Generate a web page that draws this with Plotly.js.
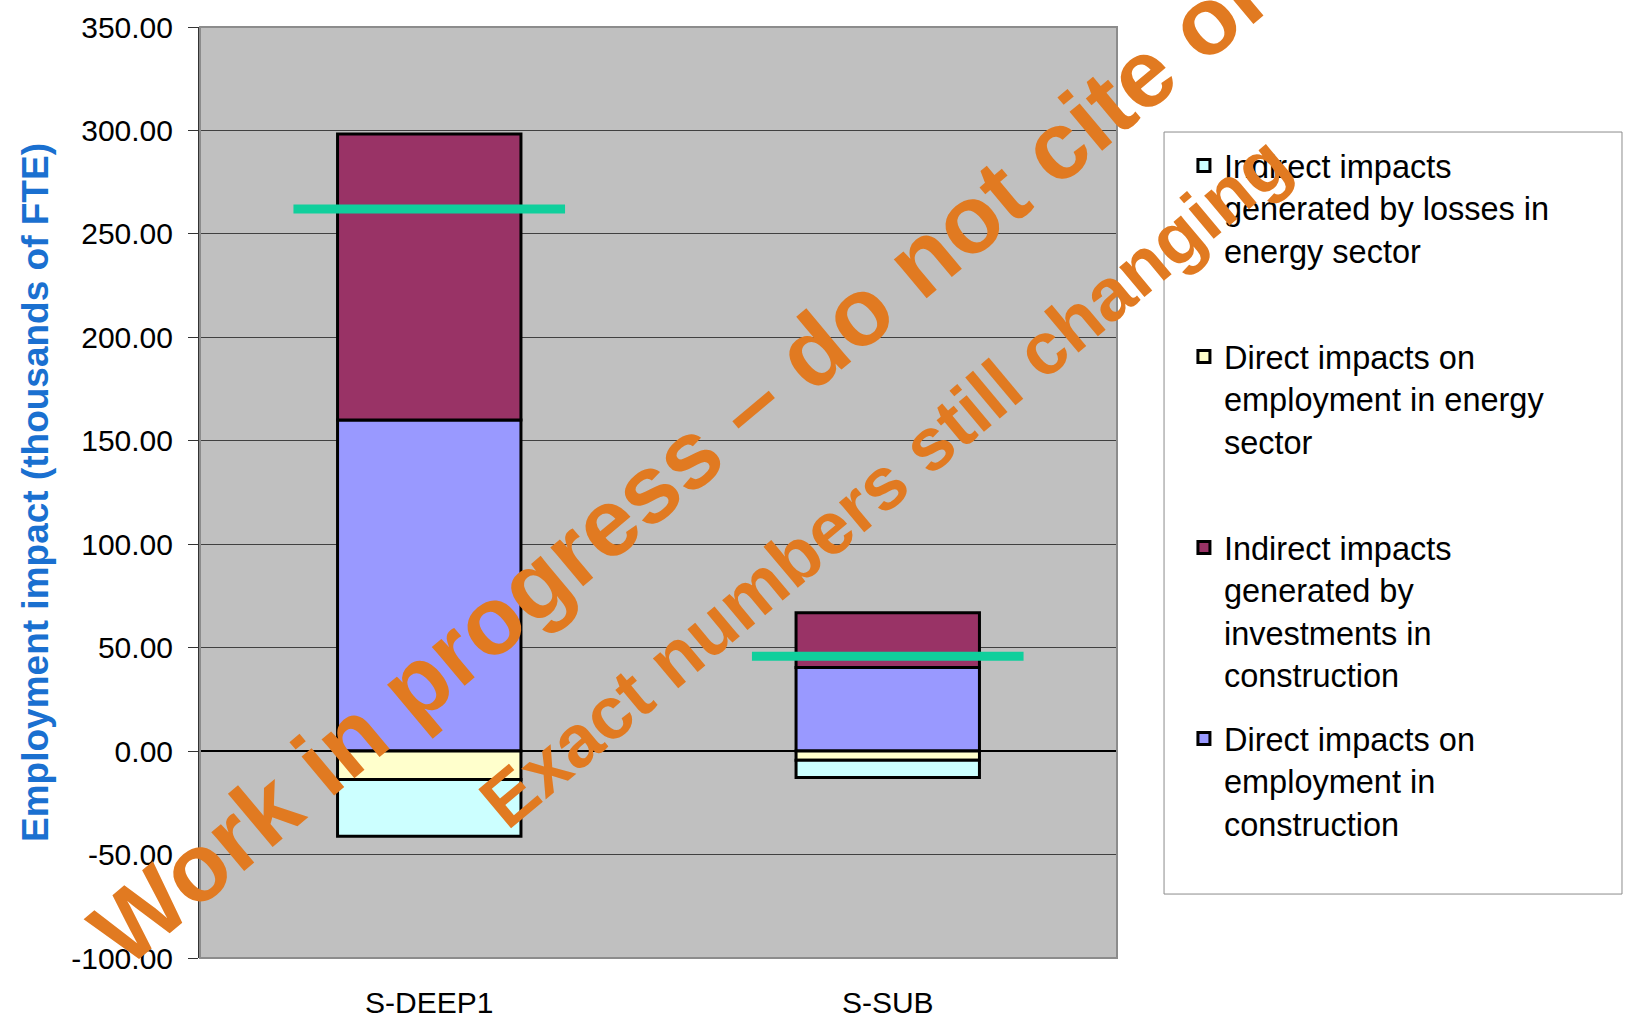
<!DOCTYPE html>
<html>
<head>
<meta charset="utf-8">
<script src="https://cdn.plot.ly/plotly-3.0.1.min.js"></script>
<style>
  html, body { margin: 0; padding: 0; background: #ffffff; overflow: hidden; }
  #chart { width: 1627px; height: 1029px; }
</style>
</head>
<body>
<div id="chart"></div>
<script>
// ---- Data ----
const categories = ['S-DEEP1', 'S-SUB'];
const directConstruction = [160.0, 40.4];     // Direct impacts on employment in construction
const indirectConstruction = [138.3, 26.5];   // Indirect impacts generated by investments in construction
const directEnergy = [-13.7, -4.4];           // Direct impacts on employment in energy sector
const indirectEnergyLosses = [-27.5, -8.4];   // Indirect impacts generated by losses in energy sector
const netImpact = [262.0, 45.8];              // green marker line

const seriesNames = [
  'Direct impacts on<br>employment in<br>construction<br>\u00a0',
  'Indirect impacts<br>generated by<br>investments in<br>construction',
  'Direct impacts on<br>employment in energy<br>sector<br>\u00a0',
  'Indirect impacts<br>generated by losses in<br>energy sector<br>\u00a0'
];
const legendRanks = [4, 3, 2, 1];

const yTickVals = [-100, -50, 0, 50, 100, 150, 200, 250, 300, 350];
const yTickText = ['-100.00', '-50.00', '0.00', '50.00', '100.00', '150.00', '200.00', '250.00', '300.00', '350.00'];

const yTitle = 'Employment impact (thousands of FTE)';
const watermarkMain = 'Work in progress \u2013 do not cite or';
const watermarkSub = 'Exact numbers still changing';

// ---- Styles ----
const FONT = 'Liberation Sans, Arial, sans-serif';
const colors = ['#9999FF', '#993366', '#FFFFCC', '#CCFFFF'];
const seriesValues = [directConstruction, indirectConstruction, directEnergy, indirectEnergyLosses];

const traces = seriesValues.map((vals, i) => ({
  type: 'bar',
  x: categories,
  y: vals,
  name: seriesNames[i],
  legendgroup: 'g' + i,
  legendrank: legendRanks[i],
  marker: { color: colors[i], line: { color: '#000000', width: 3 } },
  hoverinfo: 'x+y'
}));

traces.push({
  type: 'scatter',
  mode: 'markers',
  x: categories,
  y: netImpact,
  showlegend: false,
  marker: {
    symbol: 'line-ew',
    size: 194,
    color: '#10CF9C',
    line: { color: '#10CF9C', width: 9 }
  },
  hoverinfo: 'x+y'
});

const layout = {
  width: 1627,
  height: 1029,
  autosize: false,
  margin: { l: 200, r: 510, t: 27, b: 71, pad: 0 },
  paper_bgcolor: '#FFFFFF',
  plot_bgcolor: '#C0C0C0',
  barmode: 'relative',
  bargap: 0.6,
  font: { family: FONT, color: '#000000', size: 30 },
  xaxis: {
    type: 'category',
    showgrid: false,
    zeroline: false,
    showline: false,
    ticks: '',
    ticklabelstandoff: 24,
    tickfont: { family: FONT, size: 30, color: '#000000' }
  },
  yaxis: {
    range: [-100, 350],
    tickvals: yTickVals,
    ticktext: yTickText,
    ticks: 'outside',
    ticklen: 10,
    tickwidth: 1,
    tickcolor: '#333333',
    ticklabelstandoff: 9,
    tickfont: { family: FONT, size: 30, color: '#000000' },
    showgrid: true,
    gridcolor: '#404040',
    gridwidth: 1,
    zeroline: true,
    zerolinecolor: '#000000',
    zerolinewidth: 1.5,
    showline: true,
    linecolor: '#333333',
    linewidth: 2,
    title: {
      text: yTitle,
      standoff: 11,
      font: { family: FONT, size: 37, color: '#1A70D0', weight: 'bold' }
    }
  },
  legend: {
    x: 1.073,
    xanchor: 'left',
    y: 0.881,
    yanchor: 'top',
    valign: 'top',
    traceorder: 'grouped',
    tracegroupgap: 19,
    bgcolor: 'rgba(0,0,0,0)',
    borderwidth: 0,
    font: { family: FONT, size: 32.5, color: '#000000' }
  },
  shapes: [
    { type: 'rect', xref: 'paper', yref: 'paper', x0: 0, x1: 1, y0: 0, y1: 1,
      line: { color: '#8C8C8C', width: 2 }, layer: 'above' },
    { type: 'rect', xref: 'paper', yref: 'paper', x0: 1.0513, x1: 1.5507, y0: 0.0687, y1: 0.8872,
      line: { color: '#8C8C8C', width: 1 }, fillcolor: 'rgba(0,0,0,0)', layer: 'below' }
  ],
  annotations: [
    { text: watermarkMain, xref: 'paper', yref: 'paper', x: 0.5234, y: 0.5328,
      xanchor: 'center', yanchor: 'middle', showarrow: false, textangle: -40,
      font: { family: FONT, size: 96, color: '#E17A21', weight: 'bold' } },
    { text: watermarkSub, xref: 'paper', yref: 'paper', x: 0.7470, y: 0.5113,
      xanchor: 'center', yanchor: 'middle', showarrow: false, textangle: -40,
      font: { family: FONT, size: 74, color: '#E17A21', weight: 'bold' } }
  ],
  showlegend: true
};

Plotly.newPlot('chart', traces, layout, { displayModeBar: false, staticPlot: true });
</script>
</body>
</html>
